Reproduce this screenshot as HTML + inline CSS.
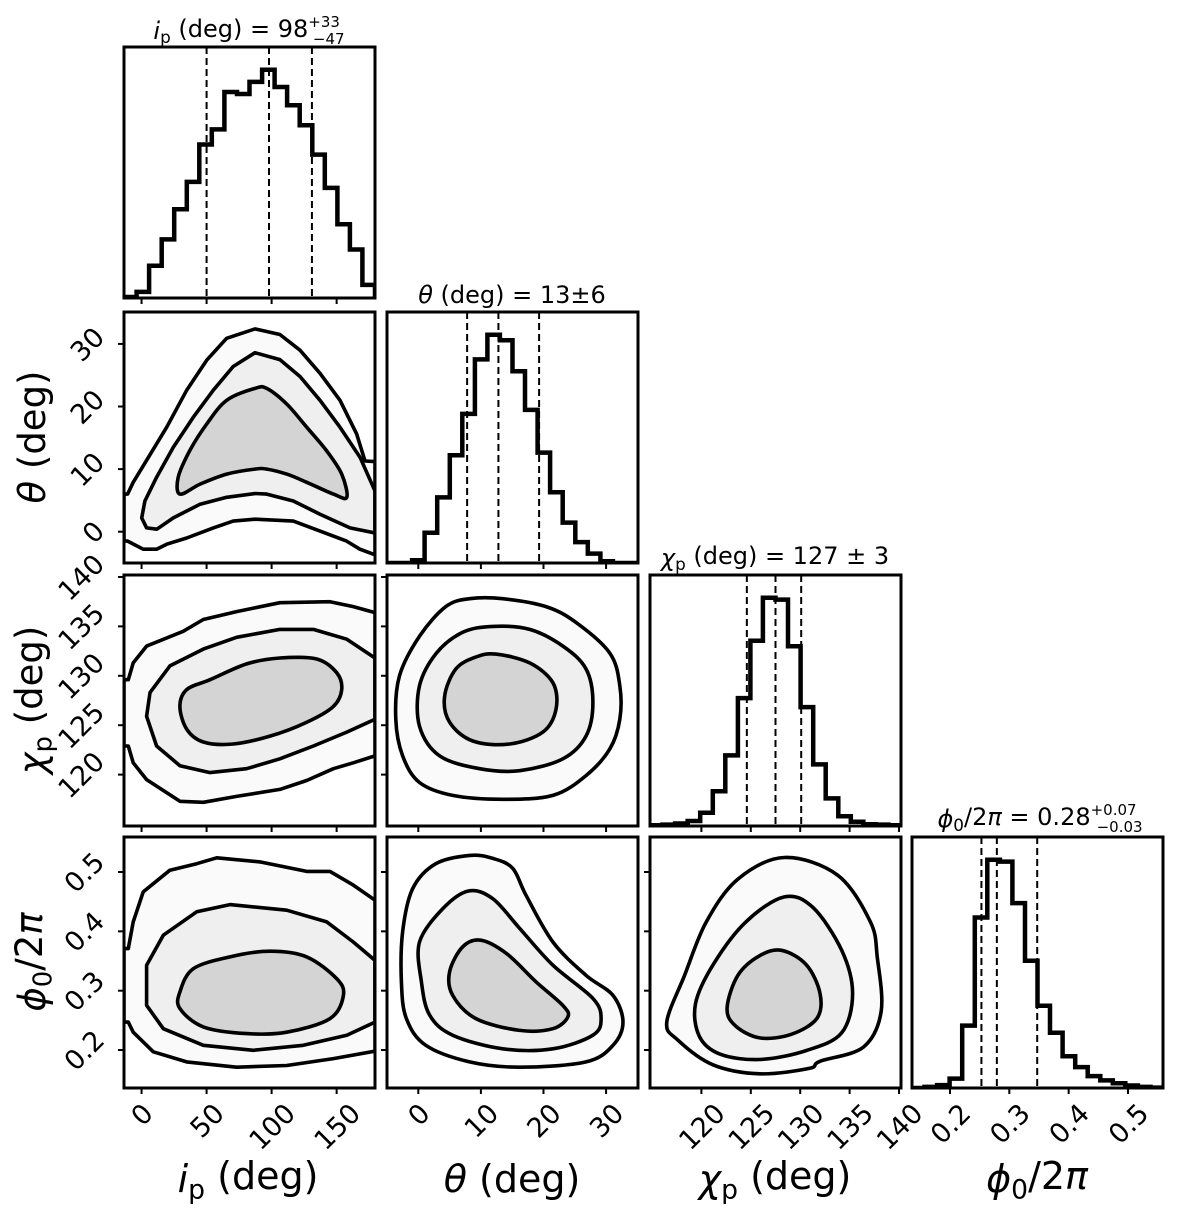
<!DOCTYPE html>
<html><head><meta charset="utf-8">
<style>
html,body{margin:0;padding:0;background:#fff;}
svg{display:block;font-family:"DejaVu Sans","Liberation Sans",sans-serif;}
</style></head>
<body>
<svg id="fig" xmlns="http://www.w3.org/2000/svg" width="1200" height="1213" viewBox="0 0 1200 1213">
<rect width="1200" height="1213" fill="#fff"/>
</svg>
<script>
// ---------- data ----------
const varNames = ['ip','theta','chi','phi'];
const rangeIp = [-13.5, 179.5];
const rangeTheta = [-5, 35.1];
const rangeChi = [114.8, 140.2];
const rangePhi = [0.136, 0.559];
const ticksIp = [0, 50, 100, 150];
const ticksTheta = [0, 10, 20, 30];
const ticksChi = [120, 125, 130, 135, 140];
const ticksPhi = [0.2, 0.3, 0.4, 0.5];
const tickLabelsIp = ['0','50','100','150'];
const tickLabelsTheta = ['0','10','20','30'];
const tickLabelsChi = ['120','125','130','135','140'];
const tickLabelsPhi = ['0.2','0.3','0.4','0.5'];
const histIp = [1,6,32,58,88,115,152,167,204,202,214,226,209,191,171,142,109,73,48,13];
const histTheta = [0,0,8,90,195,320,443,605,678,662,570,455,328,210,120,62,28,5,0,0];
const histChi = [2,4,7,14,37,97,197,357,517,637,632,502,332,172,77,27,12,5,4,2];
const histPhi = [0,3,8,26,173,473,633,628,513,353,228,153,88,58,33,21,13,7,3,1];
const quantIp = [50, 98, 131];
const quantTheta = [7.8, 12.8, 19.3];
const quantChi = [124.6, 127.5, 130.1];
const quantPhi = [0.253, 0.279, 0.347];

// contours [x, y] in data units; 'edge' = closes along panel border, 'loop' = closed curve
const cIpTheta1 = [[-13.5,6.0],[-10.7,6.0],[-6.4,7.9],[3.9,11.4],[19.3,16.7],[34.7,22.6],[50.1,27.4],[65.4,30.9],[87.2,32.4],[106.4,31.5],[121.8,29.0],[137.2,25.3],[152.6,21.0],[165.4,15.6],[171.8,11.3],[179.5,11.2],[179.5,-3.6],[178.2,-3.6],[167.9,-2.8],[157.7,-1.5],[137.2,0.1],[116.7,1.7],[87.2,2.0],[70.5,1.7],[55.2,0.6],[34.7,-1.0],[19.3,-2.0],[11.6,-2.8],[1.3,-2.8],[-10.7,-1.5],[-13.5,-1.5]];
const cIpTheta2 = [[179.5,-0.2],[160.3,0.6],[137.2,2.8],[116.7,4.9],[96.2,6.0],[87.2,6.1],[65.5,5.5],[45,4.4],[24.4,2.2],[11.8,0.4],[3.9,0.6],[0.1,2.2],[2.6,4.9],[11.6,8.7],[24.4,13.5],[39.8,18.3],[55.2,22.6],[70.5,26.4],[87.2,28.6],[106.4,27.5],[121.8,24.8],[137.2,21.0],[152.6,16.7],[168,11.9],[179.5,6.5]];
const cIpTheta3 = [[29.5,6.0],[28.2,8.7],[37.2,13.0],[50.1,17.2],[65.5,21.0],[87.2,22.9],[96.2,22.9],[111.6,20.4],[127,16.7],[142.4,12.9],[153.9,9.2],[157.8,5.5],[147.5,6.0],[127,7.9],[111.6,9.2],[96.2,10.0],[87.2,10.0],[65.5,9.2],[45,7.6]];
const cIpChi1 = [[-13.5,129.6],[-10.2,129.6],[-6.4,131.3],[3.9,133.0],[32,134.5],[47.5,135.7],[73.1,136.5],[106.4,137.4],[144.9,137.5],[162.8,137.0],[179.5,136.4],[179.5,121.9],[162.8,121.2],[147.5,120.6],[127,119.4],[106.4,118.5],[73.1,117.8],[47.5,117.2],[29.5,117.3],[3.9,119.5],[-6.4,121.2],[-10.2,122.9],[-13.5,122.9]];
const cIpChi2 = [[179.5,131.8],[157.8,133.7],[132.1,134.7],[106.4,134.7],[73.1,133.9],[47.5,132.7],[21.8,131],[6.5,128.3],[3.9,125.9],[11.6,122.9],[29.5,120.9],[52.6,120.2],[80.8,120.6],[106.4,121.6],[132.1,122.9],[157.8,124.3],[179.5,125.6]];
const cIpChi3 = [[29.5,126.9],[34.7,128.6],[52.6,129.6],[80.8,131.2],[106.4,131.8],[134.7,131.7],[150.1,130.3],[153.9,128.6],[147.5,126.9],[127,125.3],[98.8,123.9],[70.5,123.1],[47.5,123.3],[34.7,124.6]];
const cThetaChi1 = [[8.2,137.8],[13.5,137.8],[20.4,137.0],[25.2,135.4],[30.6,132.3],[32.2,129],[32.2,125.6],[30.6,122.6],[26.8,119.9],[21.5,117.9],[13.5,117.5],[5.5,117.9],[0.2,119.2],[-2.5,121.9],[-3.6,125.6],[-3.0,130],[0.2,134],[4.4,137]];
const cThetaChi2 = [[11.9,135],[17.8,134.7],[23.1,133],[26.8,130.7],[27.9,127.3],[26.8,123.9],[23.1,121.6],[16.2,120.4],[9.8,120.6],[3.4,121.9],[0.2,124.9],[0.2,129],[2.9,132.3],[7.1,134.4]];
const cThetaChi3 = [[12.4,132.2],[17.8,131.3],[21.5,129.3],[22,126.6],[19.9,124.3],[14.6,123.1],[8.7,123.4],[5,125.3],[4.2,127.9],[6,130.7],[9.2,131.9]];
const cIpPhi1 = [[-13.5,0.371],[-10.2,0.371],[-6.4,0.416],[1.3,0.4665],[21.8,0.503],[42.4,0.514],[57.8,0.524],[91.1,0.517],[127,0.501],[144.9,0.501],[162.8,0.478],[179.5,0.4525],[179.5,0.198],[147.5,0.1855],[111.6,0.174],[73.1,0.171],[34.7,0.180],[9,0.197],[-6.4,0.230],[-10.2,0.247],[-13.5,0.247]];
const cIpPhi2 = [[179.5,0.351],[162.8,0.382],[142.4,0.416],[111.6,0.4356],[68,0.445],[42.4,0.433],[16.7,0.3935],[3.9,0.343],[3.9,0.2754],[16.7,0.236],[47.5,0.208],[85.9,0.1995],[124.4,0.208],[157.8,0.2248],[179.5,0.247]];
const cIpPhi3 = [[29.5,0.298],[39.8,0.337],[68,0.357],[98.8,0.3665],[127,0.357],[150.1,0.320],[155.2,0.292],[144.9,0.253],[111.6,0.230],[80.8,0.2276],[47.5,0.239],[29.5,0.270]];
const cThetaPhi1 = [[8.2,0.528],[2.8,0.514],[-0.9,0.472],[-2.5,0.399],[-2.7,0.315],[-1.9,0.253],[1.2,0.208],[8.2,0.180],[16.2,0.171],[26.8,0.180],[31.1,0.208],[32.7,0.247],[31.1,0.292],[26.8,0.326],[21.5,0.382],[17.2,0.461],[15.1,0.506],[11.9,0.523]];
const cThetaPhi2 = [[8,0.468],[3.9,0.438],[0.2,0.382],[0.5,0.315],[1.8,0.259],[5.5,0.225],[13.5,0.202],[21.5,0.202],[27.9,0.225],[29.2,0.253],[27.9,0.287],[21.5,0.343],[16.2,0.405],[11.9,0.455]];
const cThetaPhi3 = [[10,0.385],[7.1,0.374],[5,0.332],[5.5,0.292],[9.2,0.253],[16.2,0.233],[21.5,0.236],[23.9,0.256],[23.1,0.275],[18.8,0.315],[14.1,0.3625]];
const cChiPhi1 = [[128.4,0.5245],[133.8,0.4945],[137.1,0.416],[137.8,0.356],[138.2,0.2655],[136.4,0.205],[132,0.181],[130.9,0.169],[125.9,0.160],[121.2,0.175],[117.6,0.217],[116.5,0.2475],[118.3,0.326],[120.5,0.416],[123.7,0.488]];
const cChiPhi2 = [[128.4,0.458],[131.3,0.440],[134.2,0.368],[135.3,0.2956],[134.2,0.229],[130.6,0.199],[125.9,0.184],[121.9,0.193],[119.8,0.223],[119.4,0.278],[121.2,0.344],[124.5,0.416]];
const cChiPhi3 = [[128.1,0.368],[130.6,0.344],[132,0.2956],[131.7,0.2535],[129.1,0.2265],[125.9,0.2204],[123.4,0.2415],[122.6,0.2715],[123.7,0.326],[125.9,0.359]];

// ---------- layout ----------
const ranges = [rangeIp, rangeTheta, rangeChi, rangePhi];
const ticks = [ticksIp, ticksTheta, ticksChi, ticksPhi];
const tickLabels = [tickLabelsIp, tickLabelsTheta, tickLabelsChi, tickLabelsPhi];
const hists = [histIp, histTheta, histChi, histPhi];
const quants = [quantIp, quantTheta, quantChi, quantPhi];
const contours = {
  '1-0': [[cIpTheta1,'edge'],[cIpTheta2,'edge'],[cIpTheta3,'loop']],
  '2-0': [[cIpChi1,'edge'],[cIpChi2,'edge'],[cIpChi3,'loop']],
  '2-1': [[cThetaChi1,'loop'],[cThetaChi2,'loop'],[cThetaChi3,'loop']],
  '3-0': [[cIpPhi1,'edge'],[cIpPhi2,'edge'],[cIpPhi3,'loop']],
  '3-1': [[cThetaPhi1,'loop'],[cThetaPhi2,'loop'],[cThetaPhi3,'loop']],
  '3-2': [[cChiPhi1,'loop'],[cChiPhi2,'loop'],[cChiPhi3,'loop']]
};
const X0 = [124, 387, 650, 912];
const Y0 = [47, 312, 575, 837];
const W = 251, H = 251;
const NS = 'http://www.w3.org/2000/svg';
const svg = document.getElementById('fig');
function mk(tag, parent) { const e = document.createElementNS(NS, tag); parent.appendChild(e); return e; }
function sx(c, v) { const r = ranges[c]; return X0[c] + (v - r[0]) / (r[1] - r[0]) * W; }
function sy(rw, v) { const r = ranges[rw]; return Y0[rw] + H - (v - r[0]) / (r[1] - r[0]) * H; }

const defs = mk('defs', svg);
const fillOps = ['0.02', '0.045', '0.11'];
const TFS = 27, THH = 20;

function spline(pts) {
  const n = pts.length; let d = 'M' + pts[0][0].toFixed(1) + ',' + pts[0][1].toFixed(1);
  for (let i = 0; i < n; i++) {
    const p0 = pts[(i - 1 + n) % n], p1 = pts[i], p2 = pts[(i + 1) % n], p3 = pts[(i + 2) % n];
    const c1 = [p1[0] + (p2[0] - p0[0]) / 6, p1[1] + (p2[1] - p0[1]) / 6];
    const c2 = [p2[0] - (p3[0] - p1[0]) / 6, p2[1] - (p3[1] - p1[1]) / 6];
    d += 'C' + c1[0].toFixed(1) + ',' + c1[1].toFixed(1) + ' ' + c2[0].toFixed(1) + ',' + c2[1].toFixed(1) + ' ' + p2[0].toFixed(1) + ',' + p2[1].toFixed(1);
  }
  return d + 'Z';
}

for (let row = 0; row < 4; row++) {
  for (let col = 0; col <= row; col++) {
    const g = mk('g', svg);
    
    
    const cp = mk('clipPath', defs); cp.setAttribute('id', 'clip' + row + col);
    const cr = mk('rect', cp);
    cr.setAttribute('x', X0[col]); cr.setAttribute('y', Y0[row]); cr.setAttribute('width', W); cr.setAttribute('height', H);
    const inner = mk('g', g); inner.setAttribute('clip-path', 'url(#clip' + row + col + ')');
    if (row === col) {
      const h = hists[col]; const mx = Math.max(...h) * 1.1; const n = h.length;
      const r = ranges[col]; const bw = (r[1] - r[0]) / n;
      const base = Y0[row] + H;
      const hy = v => base - v / mx * H;
      let d = 'M' + sx(col, r[0]) + ',' + base;
      for (let i = 0; i < n; i++) {
        d += 'L' + sx(col, r[0] + i * bw).toFixed(1) + ',' + hy(h[i]).toFixed(1);
        d += 'L' + sx(col, r[0] + (i + 1) * bw).toFixed(1) + ',' + hy(h[i]).toFixed(1);
      }
      d += 'L' + sx(col, r[1]) + ',' + base;
      const p = mk('path', inner);
      
      
      p.setAttribute('d', d); p.setAttribute('fill', 'none'); p.setAttribute('stroke', '#000');
      p.setAttribute('stroke-width', '4.5'); p.setAttribute('stroke-linejoin', 'miter');
      quants[col].forEach((q, qi) => {
        const l = mk('line', inner);
        
        
        const x = sx(col, q);
        l.setAttribute('x1', x); l.setAttribute('x2', x); l.setAttribute('y1', Y0[row]); l.setAttribute('y2', base);
        l.setAttribute('stroke', '#000'); l.setAttribute('stroke-width', '2'); l.setAttribute('stroke-dasharray', '7,4');
      });
    } else {
      const list = contours[row + '-' + col];
      list.forEach((c, ci) => {
        const pts = c[0].map(p => [sx(col, p[0]), sy(row, p[1])]);
        let d;
        if (c[1] === 'loop') d = spline(pts);
        else d = 'M' + pts.map(p => p[0].toFixed(1) + ',' + p[1].toFixed(1)).join('L') + 'Z';
        const f = mk('path', inner);
        
        
        f.setAttribute('d', d); f.setAttribute('fill', '#000'); f.setAttribute('fill-opacity', fillOps[ci]);
        f.setAttribute('stroke', 'none');
      });
      list.forEach((c, ci) => {
        const pts = c[0].map(p => [sx(col, p[0]), sy(row, p[1])]);
        let d;
        if (c[1] === 'loop') d = spline(pts);
        else d = 'M' + pts.map(p => p[0].toFixed(1) + ',' + p[1].toFixed(1)).join('L') + 'Z';
        const s = mk('path', inner);
        
        
        s.setAttribute('d', d); s.setAttribute('fill', 'none'); s.setAttribute('stroke', '#000');
        s.setAttribute('stroke-width', '3.6'); s.setAttribute('stroke-linejoin', 'round');
      });
    }
    const fr = mk('rect', g);
    
    
    fr.setAttribute('x', X0[col]); fr.setAttribute('y', Y0[row]); fr.setAttribute('width', W); fr.setAttribute('height', H);
    fr.setAttribute('fill', 'none'); fr.setAttribute('stroke', '#000'); fr.setAttribute('stroke-width', '3');
    ticks[col].forEach((t, ti) => {
      const x = sx(col, t);
      const l = mk('line', g);
      
      
      l.setAttribute('x1', x); l.setAttribute('x2', x); l.setAttribute('y1', Y0[row] + H); l.setAttribute('y2', Y0[row] + H + 6);
      l.setAttribute('stroke', '#000'); l.setAttribute('stroke-width', '2');
      if (row === 3) {
        const tx = mk('text', g);
        
        
        tx.textContent = tickLabels[col][ti];
        tx.setAttribute('font-size', TFS); tx.setAttribute('text-anchor', 'end');
        tx.setAttribute('x', 0); tx.setAttribute('y', 0);
        const L = tx.getComputedTextLength();
        const ex = x + 0.354 * (L + THH), ey = 1101 + 0.707 * THH;
        tx.setAttribute('transform', 'translate(' + ex.toFixed(1) + ',' + ey.toFixed(1) + ') rotate(-45)');
      }
    });
    if (row !== col) {
      ticks[row].forEach((t, ti) => {
        const y = sy(row, t);
        const l = mk('line', g);
        
        
        l.setAttribute('x1', X0[col] - 6); l.setAttribute('x2', X0[col]); l.setAttribute('y1', y); l.setAttribute('y2', y);
        l.setAttribute('stroke', '#000'); l.setAttribute('stroke-width', '2');
        if (col === 0) {
          const tx = mk('text', g);
          
          
          tx.textContent = tickLabels[row][ti];
          tx.setAttribute('font-size', TFS); tx.setAttribute('text-anchor', 'end');
          tx.setAttribute('x', 0); tx.setAttribute('y', 0);
          const L = tx.getComputedTextLength();
          const ex = 106, ey = y - 0.354 * (L - THH);
          tx.setAttribute('transform', 'translate(' + ex.toFixed(1) + ',' + ey.toFixed(1) + ') rotate(-45)');
        }
      });
    }
  }
}
</script>
<script>
(function(){
const svg = document.getElementById('fig');
const NS = 'http://www.w3.org/2000/svg';
function addText(html, x, y, size, anchor, name, rot) {
  const t = document.createElementNS(NS, 'text');
  
  
  t.setAttribute('x', x); t.setAttribute('y', y); t.setAttribute('font-size', size);
  t.setAttribute('text-anchor', anchor || 'middle');
  if (rot) t.setAttribute('transform', 'rotate(' + rot + ' ' + x + ' ' + y + ')');
  t.innerHTML = html;
  svg.appendChild(t);
}
const sub = '<tspan font-size="0.7em" dy="0.25em">';
const end = '</tspan>';
addText('<tspan font-style="italic">i</tspan>' + sub + 'p' + end + '<tspan dy="-0.25em"> (deg) = 98</tspan><tspan font-size="15" dy="-10">+33</tspan><tspan font-size="15" dx="-27" dy="17">−47</tspan>', 249, 39, 24, 'middle', 'title-ip');
addText('<tspan font-style="italic">θ</tspan> (deg) = 13±6', 512, 303, 24, 'middle', 'title-theta');
addText('<tspan font-style="italic">χ</tspan>' + sub + 'p' + end + '<tspan dy="-0.25em"> (deg) = 127 ± 3</tspan>', 775, 566, 24, 'middle', 'title-chi');
addText('<tspan font-style="italic">ϕ</tspan>' + sub + '0' + end + '<tspan dy="-0.25em">/2</tspan><tspan font-style="italic">π</tspan> = 0.28<tspan font-size="15" dy="-10">+0.07</tspan><tspan font-size="15" dx="-40" dy="17">−0.03</tspan>', 1040, 827, 24, 'middle', 'title-phi');
addText('<tspan font-style="italic">i</tspan>' + sub + 'p' + end + '<tspan dy="-0.25em"> (deg)</tspan>', 248, 1192, 38, 'middle', 'x-axis-title-ip');
addText('<tspan font-style="italic">θ</tspan> (deg)', 512, 1192, 38, 'middle', 'x-axis-title-theta');
addText('<tspan font-style="italic">χ</tspan>' + sub + 'p' + end + '<tspan dy="-0.25em"> (deg)</tspan>', 775, 1192, 38, 'middle', 'x-axis-title-chi');
addText('<tspan font-style="italic">ϕ</tspan>' + sub + '0' + end + '<tspan dy="-0.25em">/2</tspan><tspan font-style="italic">π</tspan>', 1037, 1192, 38, 'middle', 'x-axis-title-phi');
addText('<tspan font-style="italic">θ</tspan> (deg)', 45, 437, 37, 'middle', 'y-axis-title-theta', -90);
addText('<tspan font-style="italic">χ</tspan>' + sub + 'p' + end + '<tspan dy="-0.25em"> (deg)</tspan>', 45, 700, 37, 'middle', 'y-axis-title-chi', -90);
addText('<tspan font-style="italic">ϕ</tspan>' + sub + '0' + end + '<tspan dy="-0.25em">/2</tspan><tspan font-style="italic">π</tspan>', 45, 962, 37, 'middle', 'y-axis-title-phi', -90);
})();
</script>
</body></html>
